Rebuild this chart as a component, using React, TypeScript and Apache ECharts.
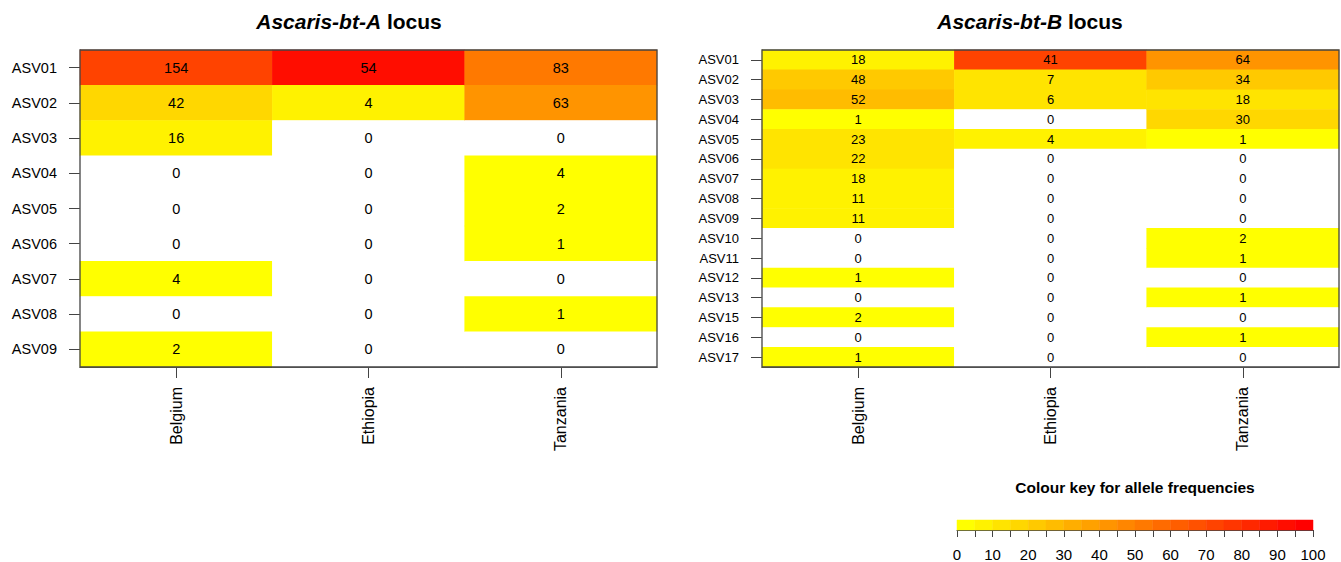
import React, { useEffect, useRef } from "react";
import * as echarts from "echarts";

const countries = ["Belgium", "Ethiopia", "Tanzania"];

const asvA = ["ASV01", "ASV02", "ASV03", "ASV04", "ASV05", "ASV06", "ASV07", "ASV08", "ASV09"];
const countsA_Belgium = [154, 42, 16, 0, 0, 0, 4, 0, 2];
const countsA_Ethiopia = [54, 4, 0, 0, 0, 0, 0, 0, 0];
const countsA_Tanzania = [83, 63, 0, 4, 2, 1, 0, 1, 0];

const asvB = ["ASV01", "ASV02", "ASV03", "ASV04", "ASV05", "ASV06", "ASV07", "ASV08", "ASV09", "ASV10", "ASV11", "ASV12", "ASV13", "ASV15", "ASV16", "ASV17"];
const countsB_Belgium = [18, 48, 52, 1, 23, 22, 18, 11, 11, 0, 0, 1, 0, 2, 0, 1];
const countsB_Ethiopia = [41, 7, 6, 0, 4, 0, 0, 0, 0, 0, 0, 0, 0, 0, 0, 0];
const countsB_Tanzania = [64, 34, 18, 30, 1, 0, 0, 0, 0, 2, 1, 0, 1, 0, 1, 0];

const keyBinStarts = [0, 5, 10, 15, 20, 25, 30, 35, 40, 45, 50, 55, 60, 65, 70, 75, 80, 85, 90, 95];
const keyBinWidth = 5;

const FONT = "'Liberation Sans', Arial, Helvetica, sans-serif";
const BORDER = "#444";

const palette = keyBinStarts.map((_, i) => {
  const g = Math.round(255 * (1 - i / (keyBinStarts.length - 1)));
  return `rgb(255,${g},0)`;
});

function binFor(count: number, total: number) {
  if (count === 0) return -1;
  const pct = (count / total) * 100;
  return Math.min(keyBinStarts.length - 1, Math.floor(pct / keyBinWidth));
}

function buildData(cols: number[][]) {
  const out: number[][] = [];
  cols.forEach((col, x) => {
    const total = col.reduce((a, b) => a + b, 0);
    col.forEach((v, y) => {
      out.push([x, y, v, binFor(v, total)]);
    });
  });
  return out;
}

const gridA = { left: 80, top: 50, width: 577, height: 317 };
const gridB = { left: 762, top: 50, width: 577, height: 317 };
const gridKey = { left: 957, top: 520, width: 356, height: 11 };

export default function App() {
  const ref = useRef<HTMLDivElement>(null);
  useEffect(() => {
    document.body.style.margin = "0";
    if (!ref.current) return;
    const chart = echarts.init(ref.current, null, { renderer: "svg" });

    const xAxisCommon = (gridIndex: number) => ({
      type: "category",
      gridIndex,
      data: countries,
      axisLine: { show: true, lineStyle: { color: BORDER } },
      axisTick: { show: true, alignWithLabel: true, length: 11, lineStyle: { color: BORDER } },
      axisLabel: { rotate: 90, fontSize: 16, color: "#000", margin: 20, fontFamily: FONT },
      splitLine: { show: false },
    });
    const yAxisCommon = (gridIndex: number, data: string[], fontSize: number) => ({
      type: "category",
      gridIndex,
      data,
      inverse: true,
      axisLine: { show: true, lineStyle: { color: BORDER } },
      axisTick: { show: true, alignWithLabel: true, length: 11, lineStyle: { color: BORDER } },
      axisLabel: { fontSize, color: "#000", margin: 23, fontFamily: FONT },
      splitLine: { show: false },
    });

    const keyData = keyBinStarts.map((s, i) => [s, s + keyBinWidth, i]);

    const pieces = [{ value: -1, color: "#ffffff" }, ...palette.map((c, i) => ({ value: i, color: c }))];

    const richTitle = {
      i: { fontStyle: "italic", fontWeight: "bold", fontSize: 21, fontFamily: FONT, color: "#000" },
      b: { fontWeight: "bold", fontSize: 21, fontFamily: FONT, color: "#000" },
    };

    chart.setOption({
      animation: false,
      backgroundColor: "#fff",
      title: [
        {
          text: "{i|Ascaris-bt-A}{b| locus}",
          left: 344,
          top: 6,
          textAlign: "center",
          textStyle: { rich: richTitle },
        },
        {
          text: "{i|Ascaris-bt-B}{b| locus}",
          left: 1025,
          top: 6,
          textAlign: "center",
          textStyle: { rich: richTitle },
        },
        {
          text: "Colour key for allele frequencies",
          left: 1130,
          top: 474,
          textAlign: "center",
          textStyle: { fontWeight: "bold", fontSize: 15.5, fontFamily: FONT, color: "#000" },
        },
      ],
      visualMap: {
        type: "piecewise",
        show: false,
        dimension: 3,
        seriesIndex: [0, 1],
        pieces,
      },
      grid: [
        { ...gridA, containLabel: false },
        { ...gridB, containLabel: false },
        { ...gridKey, containLabel: false },
      ],
      xAxis: [
        xAxisCommon(0),
        xAxisCommon(1),
        {
          type: "value",
          gridIndex: 2,
          min: 0,
          max: 100,
          interval: 5,
          offset: 2,
          axisLine: { show: true, lineStyle: { color: BORDER, width: 1 } },
          axisTick: { show: true, length: 7, lineStyle: { color: BORDER } },
          axisLabel: {
            fontSize: 15,
            color: "#000",
            margin: 15,
            fontFamily: FONT,
            formatter: (v: number) => (v % 10 === 0 ? String(v) : ""),
          },
          splitLine: { show: false },
        },
      ],
      yAxis: [
        yAxisCommon(0, asvA, 14.5),
        yAxisCommon(1, asvB, 13),
        { type: "value", gridIndex: 2, min: 0, max: 1, show: false },
      ],
      series: [
        {
          type: "heatmap",
          xAxisIndex: 0,
          yAxisIndex: 0,
          data: buildData([countsA_Belgium, countsA_Ethiopia, countsA_Tanzania]),
          label: { show: true, color: "#000", fontSize: 14.5, fontFamily: FONT, formatter: (p: any) => String(p.value[2]) },
          itemStyle: { borderWidth: 0 },
          emphasis: { disabled: true },
        },
        {
          type: "heatmap",
          xAxisIndex: 1,
          yAxisIndex: 1,
          data: buildData([countsB_Belgium, countsB_Ethiopia, countsB_Tanzania]),
          label: { show: true, color: "#000", fontSize: 13, fontFamily: FONT, formatter: (p: any) => String(p.value[2]) },
          itemStyle: { borderWidth: 0 },
          emphasis: { disabled: true },
        },
        {
          type: "custom",
          xAxisIndex: 2,
          yAxisIndex: 2,
          data: keyData,
          renderItem: (params: any, api: any) => {
            const p0 = api.coord([api.value(0), 1]);
            const p1 = api.coord([api.value(1), 0]);
            return {
              type: "rect",
              shape: { x: p0[0], y: p0[1], width: p1[0] - p0[0], height: p1[1] - p0[1] },
              style: { fill: palette[api.value(2)], stroke: palette[api.value(2)], lineWidth: 0.5 },
            };
          },
        },
      ],
      graphic: [
        {
          type: "rect",
          z: 100,
          silent: true,
          shape: { x: gridA.left, y: gridA.top, width: gridA.width, height: gridA.height },
          style: { fill: "none", stroke: BORDER, lineWidth: 1.3 },
        },
        {
          type: "rect",
          z: 100,
          silent: true,
          shape: { x: gridB.left, y: gridB.top, width: gridB.width, height: gridB.height },
          style: { fill: "none", stroke: BORDER, lineWidth: 1.3 },
        },
      ],
    });
    return () => chart.dispose();
  }, []);
  return <div ref={ref} style={{ width: 1341, height: 562 }} />;
}
